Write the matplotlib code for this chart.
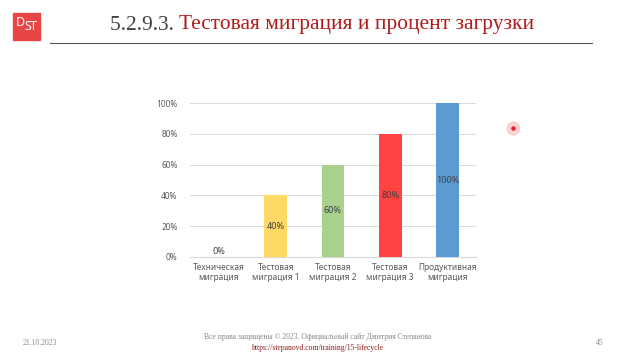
import matplotlib
matplotlib.use("Agg")
import matplotlib.pyplot as plt
from matplotlib.patches import Rectangle

# data
categories = ["Техническая\nмиграция", "Тестовая\nмиграция 1", "Тестовая\nмиграция 2",
              "Тестовая\nмиграция 3", "Продуктивная\nмиграция"]
values = [0, 40, 60, 80, 100]
colors = ["#5B9BD5", "#FFD966", "#A9D18E", "#FF4343", "#5B9BD5"]
yticks = [0, 20, 40, 60, 80, 100]

title_num = "5.2.9.3. "
title_txt = "Тестовая миграция и процент загрузки"
footer_date = "21.10.2023"
footer_copy = "Все права защищены © 2023. Официальный сайт Дмитрия Степанова"
footer_url = "https://stepanovd.com/training/15-lifecycle"
page_no = "45"

sans = ["Noto Sans", "DejaVu Sans"]
serif = ["Liberation Serif", "DejaVu Serif"]

fig = plt.figure(figsize=(6.4, 3.6), dpi=100)
fig.patch.set_facecolor("white")

# logo
fig.patches.append(Rectangle((13 / 640, 1 - 40 / 360), 27 / 640, 27 / 360,
                             transform=fig.transFigure, color="#E84545", zorder=1))
fig.text(20 / 640, 1 - 22 / 360, "D", color="white", fontsize=9, family=sans,
         ha="center", va="center")
fig.text(27.5 / 640, 1 - 26 / 360, "S", color="white", fontsize=9, family=sans,
         ha="center", va="center")
fig.text(33.5 / 640, 1 - 27 / 360, "T", color="white", fontsize=9, family=sans,
         ha="center", va="center")

# title
t1 = fig.text(110 / 640, 1 - 25 / 360, title_num, color="#404040", fontsize=15.4,
              family=serif, ha="left", va="center")
fig.canvas.draw()
bb = t1.get_window_extent()
fig.text(bb.x1 / 640, 1 - 25 / 360, title_txt, color="#B01A1A", fontsize=15.4,
         family=serif, ha="left", va="center")
fig.add_artist(plt.Line2D([50 / 640, 592 / 640], [1 - 43 / 360, 1 - 43 / 360],
                          color="#555555", lw=0.8))

# chart
ax = fig.add_axes([190 / 640, 1 - 257 / 360, 286 / 640, 154 / 360])
x = range(len(values))
ax.bar(x, values, width=0.4, color=colors, zorder=3)
ax.set_ylim(0, 100)
ax.set_xlim(-0.5, len(values) - 0.5)
ax.set_yticks(yticks)
ax.set_yticklabels([f"{v}%" for v in yticks])
ax.set_xticks(list(x))
ax.set_xticklabels(categories)
ax.grid(axis="y", color="#D9D9D9", lw=0.7, zorder=0)
for s in ["top", "right", "left"]:
    ax.spines[s].set_visible(False)
ax.spines["bottom"].set_color("#D9D9D9")
ax.tick_params(length=0, labelsize=6, labelcolor="#595959")
ax.tick_params(axis="y", pad=9)
ax.tick_params(axis="x", pad=4)
for lbl in ax.get_xticklabels() + ax.get_yticklabels():
    lbl.set_family(sans)
for xi, v in zip(x, values):
    if v == 0:
        ax.text(xi, 0.5, f"{v}%", ha="center", va="bottom", fontsize=6.5,
                color="#404040", family=sans, zorder=4)
    else:
        ax.text(xi, v / 2, f"{v}%", ha="center", va="center", fontsize=6.5,
                color="#404040", family=sans, zorder=4)

# laser pointer dot
fig.add_artist(plt.Line2D([513 / 640], [1 - 128 / 360], marker="o", markersize=9,
                          color="#FF9999", alpha=0.4, lw=0))
fig.add_artist(plt.Line2D([513 / 640], [1 - 128 / 360], marker="o", markersize=4,
                          color="#E0202A", markeredgecolor="#FFCCCC",
                          markeredgewidth=0.8, lw=0))

# footer
fig.text(40 / 640, 1 - 343 / 360, footer_date, color="#888888", fontsize=5.5,
         family=serif, ha="center", va="center")
fig.text(318 / 640, 1 - 337 / 360, footer_copy, color="#888888", fontsize=5.5,
         family=serif, ha="center", va="center")
fig.text(318 / 640, 1 - 348 / 360, footer_url, color="#8B1A1A", fontsize=5.5,
         family=serif, ha="center", va="center")
fig.text(600 / 640, 1 - 343 / 360, page_no, color="#888888", fontsize=5.5,
         family=serif, ha="center", va="center")

fig.savefig("out.png", dpi=100)
